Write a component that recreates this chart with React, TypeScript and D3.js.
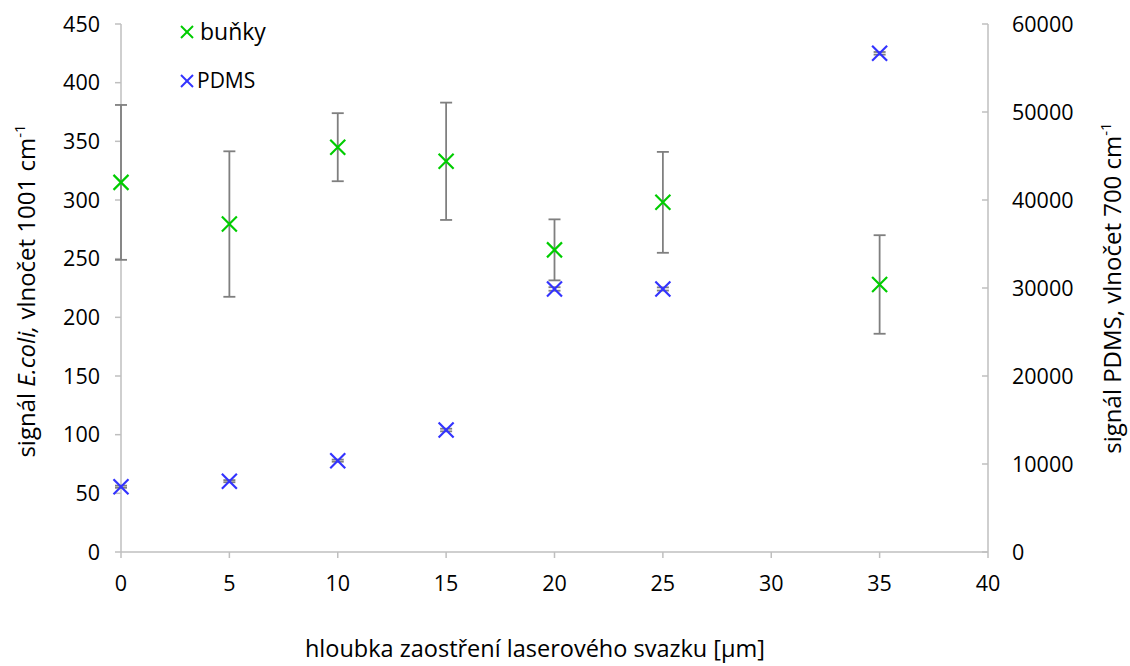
import React from "react";
import * as d3 from "d3";

const depths = [0, 5, 10, 15, 20, 25, 35];
const cellsValues = [315, 279.5, 345, 333, 257.5, 298, 228];
const cellsErrors = [66, 62, 29, 50, 26, 43, 42];
const pdmsValues = [7420, 8050, 10380, 13860, 29890, 29890, 56670];
const pdmsErrors = [120, 120, 120, 150, 200, 180, 150];
const xTicks = [0, 5, 10, 15, 20, 25, 30, 35, 40];
const yLeftTicks = [0, 50, 100, 150, 200, 250, 300, 350, 400, 450];
const yRightTicks = [0, 10000, 20000, 30000, 40000, 50000, 60000];
const legendLabels = ["buňky", "PDMS"];

const W = 1130;
const H = 666;
const FONT = "'Open Sans', sans-serif";
const GREEN = "#00cc00";
const BLUE = "#3333ff";
const AXIS = "#bfbfbf";
const ERR = "#7f7f7f";

function Cross({ x, y, r, color, sw }: { x: number; y: number; r: number; color: string; sw: number }) {
  return (
    <g stroke={color} strokeWidth={sw}>
      <line x1={x - r} y1={y - r} x2={x + r} y2={y + r} />
      <line x1={x - r} y1={y + r} x2={x + r} y2={y - r} />
    </g>
  );
}

export default function App() {
  const x = d3.scaleLinear().domain([0, 40]).range([121, 988]);
  const yL = d3.scaleLinear().domain([0, 450]).range([552, 24]);
  const yR = d3.scaleLinear().domain([0, 60000]).range([552, 24]);
  const cap = 6;

  return (
    <svg width={W} height={H} style={{ position: "absolute", left: 0, top: 0, background: "#fff" }}>
      {/* axes */}
      <line x1={x(0)} y1={yL(0)} x2={x(40)} y2={yL(0)} stroke={AXIS} strokeWidth={1.5} />
      <line x1={x(0)} y1={yL(0)} x2={x(0)} y2={yL(450)} stroke={AXIS} strokeWidth={1.5} />
      <line x1={x(40)} y1={yR(0)} x2={x(40)} y2={yR(60000)} stroke={AXIS} strokeWidth={1.5} />
      {xTicks.map((t) => (
        <g key={"xt" + t}>
          <line x1={x(t)} x2={x(t)} y1={yL(0)} y2={yL(0) + 6} stroke={AXIS} strokeWidth={1.5} />
          <text x={x(t)} y={591} textAnchor="middle" fontFamily={FONT} fontSize={21.5} fill="#000">
            {t}
          </text>
        </g>
      ))}
      {yLeftTicks.map((t) => (
        <g key={"yl" + t}>
          <line x1={x(0) - 6} x2={x(0)} y1={yL(t)} y2={yL(t)} stroke={AXIS} strokeWidth={1.5} />
          <text x={100} y={yL(t) + 7.5} textAnchor="end" fontFamily={FONT} fontSize={21.5} fill="#000">
            {t}
          </text>
        </g>
      ))}
      {yRightTicks.map((t) => (
        <g key={"yr" + t}>
          <line x1={x(40) - 6} x2={x(40)} y1={yR(t)} y2={yR(t)} stroke={AXIS} strokeWidth={1.5} />
          <text x={1012} y={yR(t) + 7.5} textAnchor="start" fontFamily={FONT} fontSize={21.5} fill="#000">
            {t}
          </text>
        </g>
      ))}

      {/* axis titles */}
      <text
        transform={`translate(35, 291) rotate(-90)`}
        textAnchor="middle"
        fontFamily={FONT}
        fontSize={24}
        fill="#000"
      >
        signál <tspan fontStyle="italic">E.coli,</tspan> vlnočet 1001 cm
        <tspan fontSize={15} dy={-10}>-1</tspan>
      </text>
      <text
        transform={`translate(1121, 288) rotate(-90)`}
        textAnchor="middle"
        fontFamily={FONT}
        fontSize={24}
        fill="#000"
      >
        signál PDMS, vlnočet 700 cm
        <tspan fontSize={15} dy={-10}>-1</tspan>
      </text>
      <text x={535} y={657} textAnchor="middle" fontFamily={FONT} fontSize={23.5} fill="#000">
        hloubka zaostření laserového svazku [µm]
      </text>

      {/* error bars cells */}
      {depths.map((d, i) => {
        const cx = x(d);
        const top = yL(cellsValues[i] + cellsErrors[i]);
        const bot = yL(cellsValues[i] - cellsErrors[i]);
        return (
          <g key={"ec" + i} stroke={ERR} strokeWidth={1.8}>
            <line x1={cx} x2={cx} y1={top} y2={bot} />
            <line x1={cx - cap} x2={cx + cap} y1={top} y2={top} />
            <line x1={cx - cap} x2={cx + cap} y1={bot} y2={bot} />
          </g>
        );
      })}
      {/* error bars pdms */}
      {depths.map((d, i) => {
        const cx = x(d);
        const top = yR(pdmsValues[i] + pdmsErrors[i]);
        const bot = yR(pdmsValues[i] - pdmsErrors[i]);
        return (
          <g key={"ep" + i} stroke={ERR} strokeWidth={1.8}>
            <line x1={cx} x2={cx} y1={top} y2={bot} />
            <line x1={cx - cap} x2={cx + cap} y1={top} y2={top} />
            <line x1={cx - cap} x2={cx + cap} y1={bot} y2={bot} />
          </g>
        );
      })}

      {/* markers */}
      {depths.map((d, i) => (
        <Cross key={"mc" + i} x={x(d)} y={yL(cellsValues[i])} r={7.5} color={GREEN} sw={2.2} />
      ))}
      {depths.map((d, i) => (
        <Cross key={"mp" + i} x={x(d)} y={yR(pdmsValues[i])} r={7.5} color={BLUE} sw={2.2} />
      ))}

      {/* legend */}
      <Cross x={187} y={32} r={6} color={GREEN} sw={2} />
      <text x={200} y={40} fontFamily={FONT} fontSize={23} fill="#000">
        {legendLabels[0]}
      </text>
      <Cross x={187} y={81} r={6} color={BLUE} sw={2} />
      <text x={197} y={88} fontFamily={FONT} fontSize={21} fill="#000">
        {legendLabels[1]}
      </text>
    </svg>
  );
}
